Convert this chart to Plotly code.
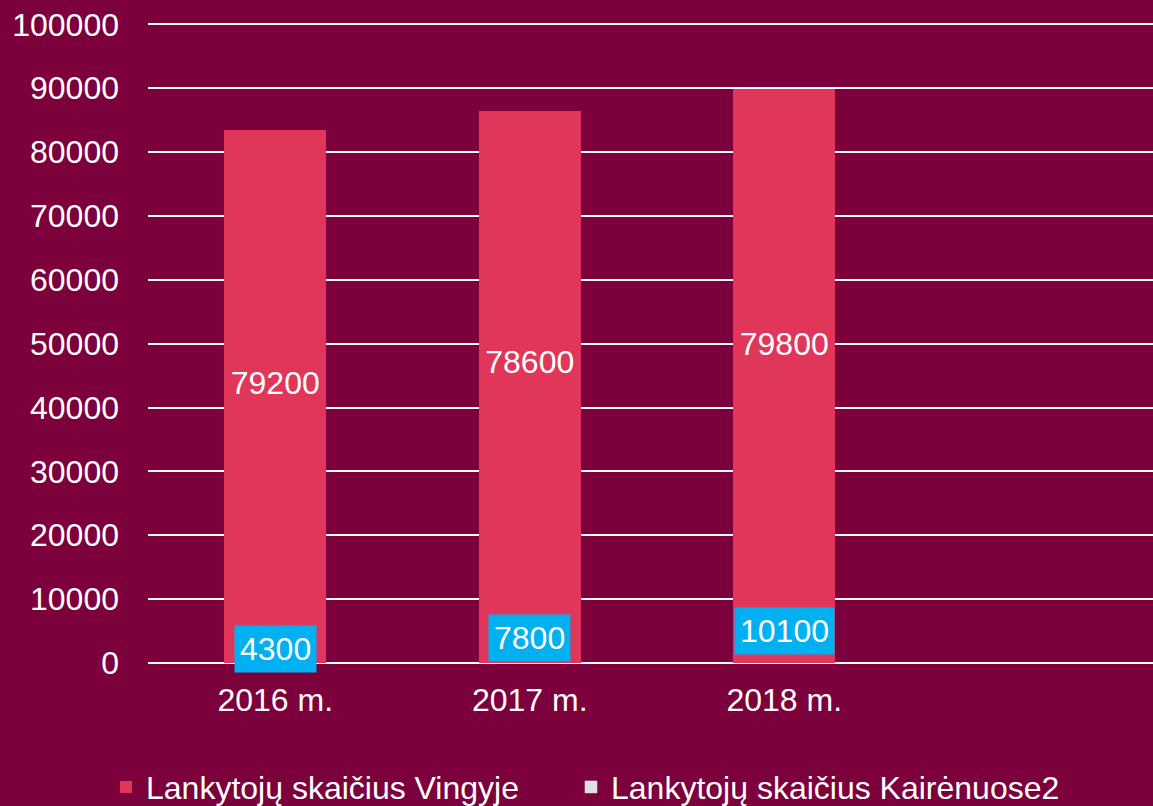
import plotly.graph_objects as go

categories = ["2016 m.", "2017 m.", "2018 m."]
vingis = [79200, 78600, 79800]
kairenai = [4300, 7800, 10100]
y_ticks = [0, 10000, 20000, 30000, 40000, 50000, 60000, 70000, 80000, 90000, 100000]

BG = "#7b003b"
RED = "#e0365a"
CYAN = "#00b0f0"
FONT = "Liberation Sans, Arial, sans-serif"
FS = 32

fig = go.Figure()
fig.add_trace(go.Bar(x=categories, y=kairenai, marker=dict(color=RED, line=dict(width=0)),
                     width=0.4, showlegend=False, name="Lankytojų skaičius Kairėnuose2",
                     hoverinfo="skip"))
fig.add_trace(go.Bar(x=categories, y=vingis, marker=dict(color=RED, line=dict(width=0)),
                     width=0.4, name="Lankytojų skaičius Vingyje", legend="legend",
                     text=[str(v) for v in vingis], textposition="inside",
                     insidetextanchor="middle", textangle=0,
                     textfont=dict(color="white", size=FS, family=FONT)))
fig.add_trace(go.Bar(x=[None], y=[None], marker=dict(color="#e0e0e0"),
                     name="Lankytojų skaičius Kairėnuose2", legend="legend2"))

for c, v in zip(categories, kairenai):
    fig.add_annotation(x=c, y=v / 2, text=str(v), showarrow=False,
                       bgcolor=CYAN, borderpad=5,
                       font=dict(color="white", size=FS, family=FONT))

legend_common = dict(orientation="h", yanchor="middle", y=-0.1925, xanchor="left",
                     font=dict(size=FS, color="white"), bgcolor="rgba(0,0,0,0)")

fig.update_layout(
    width=1153, height=806,
    margin=dict(l=148, r=0, t=18, b=143, autoexpand=False),
    paper_bgcolor=BG, plot_bgcolor=BG,
    barmode="stack",
    font=dict(family=FONT, color="white", size=FS),
    xaxis=dict(type="category", range=[-0.5, 3.449], showgrid=False,
               showline=False, ticks="", ticklabelstandoff=15,
               tickfont=dict(size=FS, color="white")),
    yaxis=dict(range=[0, 101000], tickvals=y_ticks, tickformat="d",
               showgrid=True, gridcolor="white", gridwidth=2,
               zeroline=True, zerolinecolor="white", zerolinewidth=2,
               ticks="", ticklabelstandoff=28,
               tickfont=dict(size=FS, color="white")),
    legend=dict(x=(106 - 148) / 1005, **legend_common),
    legend2=dict(x=(571 - 148) / 1005, **legend_common),
)

fig.write_html("out.html", config={"displayModeBar": False},
               post_script="document.body.style.margin='0';document.documentElement.style.margin='0';")
